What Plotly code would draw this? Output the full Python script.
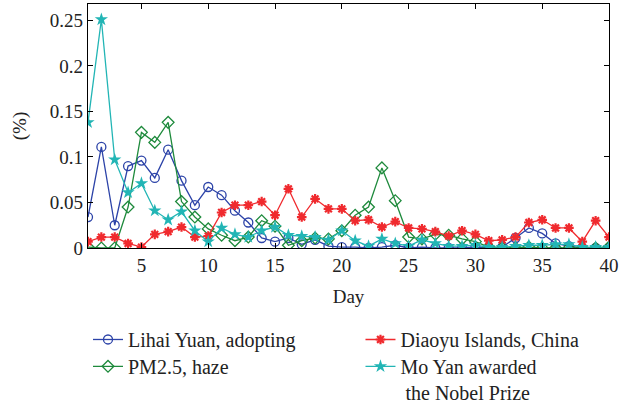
import plotly.graph_objects as go

days = list(range(1, 41))

lihai_yuan = [0.034, 0.111, 0.025, 0.090, 0.096, 0.077, 0.108, 0.074, 0.047, 0.067,
              0.058, 0.041, 0.028, 0.011, 0.007, 0.011, 0.004, 0.009, 0.002, 0.001,
              0.001, 0.000, 0.001, 0.003, 0.000, 0.001, 0.000, 0.000, 0.000, 0.001,
              0.000, 0.001, 0.011, 0.022, 0.016, 0.005, 0.002, 0.000, 0.000, 0.000]

diaoyu = [0.007, 0.012, 0.012, 0.005, 0.001, 0.015, 0.018, 0.023, 0.012, 0.013,
          0.039, 0.047, 0.047, 0.051, 0.036, 0.065, 0.034, 0.054, 0.043, 0.043,
          0.030, 0.031, 0.023, 0.029, 0.022, 0.021, 0.018, 0.013, 0.019, 0.015,
          0.008, 0.009, 0.012, 0.028, 0.031, 0.022, 0.022, 0.007, 0.030, 0.012]

pm25 = [0.001, 0.000, 0.000, 0.045, 0.127, 0.116, 0.138, 0.051, 0.034, 0.021,
        0.014, 0.008, 0.012, 0.030, 0.024, 0.003, 0.008, 0.011, 0.010, 0.019,
        0.036, 0.045, 0.088, 0.052, 0.012, 0.010, 0.015, 0.014, 0.010, 0.007,
        0.001, 0.000, 0.000, 0.001, 0.000, 0.000, 0.000, 0.000, 0.000, 0.001]

mo_yan = [0.138, 0.251, 0.097, 0.061, 0.071, 0.041, 0.031, 0.040, 0.019, 0.007,
          0.022, 0.015, 0.012, 0.019, 0.023, 0.014, 0.013, 0.012, 0.009, 0.019,
          0.008, 0.002, 0.010, 0.005, 0.002, 0.009, 0.005, 0.002, 0.002, 0.003,
          0.001, 0.001, 0.002, 0.003, 0.003, 0.004, 0.004, 0.001, 0.001, 0.001]

x_ticks = [5, 10, 15, 20, 25, 30, 35, 40]
y_ticks = [0, 0.05, 0.1, 0.15, 0.2, 0.25]
y_tick_text = ["0", "0.05", "0.1", "0.15", "0.2", "0.25"]

BLUE = "#2c43a8"
GREEN = "#1e8a3c"
RED = "#f02a2e"
CYAN = "#22b5b5"
FONT = "Liberation Serif"
TEXT = "#222"

fig = go.Figure()

fig.add_trace(go.Scatter(
    x=days, y=lihai_yuan, name="Lihai Yuan, adopting", mode="lines+markers",
    line=dict(color=BLUE, width=1.3),
    marker=dict(symbol="circle-open", size=9, color=BLUE, line=dict(width=1.3)),
    legend="legend",
))
fig.add_trace(go.Scatter(
    x=days, y=pm25, name="PM2.5, haze", mode="lines+markers",
    line=dict(color=GREEN, width=1.3),
    marker=dict(symbol="diamond-open", size=9, color=GREEN, line=dict(width=1.3)),
    legend="legend3",
))
fig.add_trace(go.Scatter(
    x=days, y=diaoyu, name="Diaoyu Islands, China", mode="lines+markers",
    line=dict(color=RED, width=1.3),
    marker=dict(symbol="asterisk-open", size=8, color=RED, line=dict(width=2.2, color=RED)),
    legend="legend2",
))
fig.add_trace(go.Scatter(
    x=days, y=mo_yan, name="Mo Yan awarded<br> the Nobel Prize", mode="lines+markers",
    line=dict(color=CYAN, width=1.3),
    marker=dict(symbol="star", size=10, color=CYAN, line=dict(width=0)),
    legend="legend4",
))

axis_common = dict(
    showline=True, linecolor="black", linewidth=1.2, mirror="ticks",
    ticks="inside", ticklen=5, tickcolor="black", tickwidth=1.2,
    showgrid=False, zeroline=False,
    tickfont=dict(family=FONT, size=19, color=TEXT),
)

fig.update_xaxes(
    range=[1, 40], tickvals=x_ticks,
    title=dict(text="Day", font=dict(family=FONT, size=19, color=TEXT), standoff=14),
    **axis_common,
)
fig.update_yaxes(
    range=[0, 0.268], tickvals=y_ticks, ticktext=y_tick_text,
    title=dict(text="(%)", font=dict(family=FONT, size=19, color=TEXT), standoff=18),
    **axis_common,
)

legend_common = dict(
    orientation="v", yanchor="top", xanchor="left",
    font=dict(family=FONT, size=20, color=TEXT),
    bgcolor="rgba(0,0,0,0)", itemwidth=30, tracegroupgap=0,
    valign="top",
)

# Two columns of legend entries below the axes
row1_y, row2_y = -0.295, -0.405
col1_x, col2_x = 0.0, 0.523

fig.update_layout(
    width=634, height=404,
    margin=dict(l=88, r=25, t=4, b=156, autoexpand=False),
    plot_bgcolor="white", paper_bgcolor="white",
    legend=dict(x=col1_x, y=row1_y, **legend_common),
    legend3=dict(x=col1_x, y=row2_y, **legend_common),
    legend2=dict(x=col2_x, y=row1_y, **legend_common),
    legend4=dict(x=col2_x, y=row2_y, **legend_common),
    showlegend=True,
)

fig.write_html("out.html")
